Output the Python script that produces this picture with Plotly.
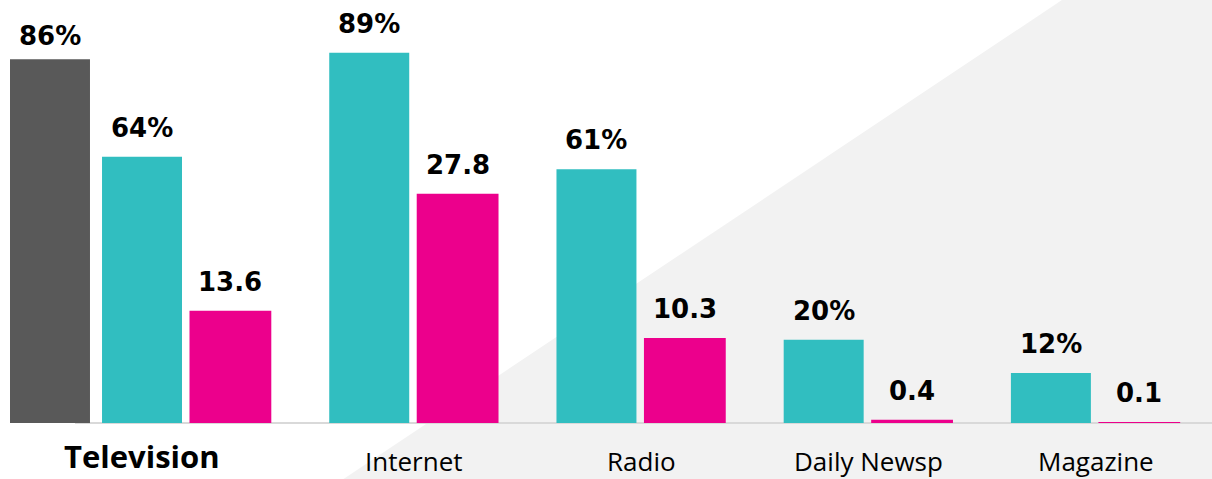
import plotly.graph_objects as go

categories = ["Television", "Internet", "Radio", "Daily Newsp", "Magazine"]
tv_overall = [86]
reach_pct = [64, 89, 61, 20, 12]
time_spent = [13.6, 27.8, 10.3, 0.4, 0.1]
overall_labels = ["86%"]
reach_labels = ["64%", "89%", "61%", "20%", "12%"]
time_labels = ["13.6", "27.8", "10.3", "0.4", "0.1"]

GRAY = "#595959"
TEAL = "#31BEC0"
MAG = "#EC008C"

W_BAR = 0.352
OFF_GRAY = -0.779
OFF_TEAL = -0.374
OFF_MAG = 0.011
W_MAG = 0.36

fig = go.Figure()
fig.add_bar(x=categories[:1], y=tv_overall, yaxis="y3", marker_color=GRAY,
            offset=OFF_GRAY, width=W_BAR, marker_line_width=0)
fig.add_bar(x=categories, y=reach_pct, marker_color=TEAL,
            offset=OFF_TEAL, width=W_BAR, marker_line_width=0)
fig.add_bar(x=categories, y=time_spent, yaxis="y2", marker_color=MAG,
            offset=OFF_MAG, width=W_MAG, marker_line_width=0)

val_font = dict(family="DejaVu Sans", size=26, color="black", weight="bold")
ann = []
for i, (v, t) in enumerate(zip(tv_overall, overall_labels)):
    ann.append(dict(x=i + OFF_GRAY + W_BAR / 2, y=v, yref="y3", text=t,
                    showarrow=False, yanchor="bottom", yshift=6, font=val_font))
for i, (v, t) in enumerate(zip(reach_pct, reach_labels)):
    ann.append(dict(x=i + OFF_TEAL + W_BAR / 2, y=v, yref="y", text=t,
                    showarrow=False, yanchor="bottom", yshift=12, font=val_font))
for i, (v, t) in enumerate(zip(time_spent, time_labels)):
    ann.append(dict(x=i + OFF_MAG + W_MAG / 2, y=v, yref="y2", text=t,
                    showarrow=False, yanchor="bottom", yshift=12, font=val_font))

for i, c in enumerate(categories):
    if i == 0:
        ann.append(dict(x=i + OFF_TEAL + W_BAR / 2, y=0, xref="x", yref="paper", text=c,
                        showarrow=False, yanchor="middle", yshift=-33,
                        font=dict(family="Open Sans", size=31, color="black", weight="bold")))
    else:
        ann.append(dict(x=i, y=0, xref="x", yref="paper", text=c,
                        showarrow=False, yanchor="middle", yshift=-38,
                        font=dict(family="Open Sans", size=26, color="black")))

fig.update_layout(
    width=1212, height=479,
    margin=dict(l=0, r=0, t=0, b=56, pad=0),
    paper_bgcolor="white", plot_bgcolor="rgba(0,0,0,0)",
    barmode="overlay", showlegend=False,
    xaxis=dict(type="category", range=[-0.823, 4.511], showticklabels=False,
               showgrid=False, zeroline=False, showline=False),
    yaxis=dict(range=[0, 101.7], visible=False),
    yaxis2=dict(range=[0, 51.3], overlaying="y", visible=False),
    yaxis3=dict(range=[0, 100], overlaying="y", visible=False),
    annotations=ann,
    shapes=[
        dict(type="path", xref="paper", yref="paper",
             path="M 0.8762,1 L 1,1 L 1,-0.1324 L 0.2834,-0.1324 Z",
             fillcolor="#F2F2F2", line=dict(width=0), layer="below"),
        dict(type="line", xref="paper", yref="paper", x0=75 / 1212, x1=1, y0=0, y1=0,
             line=dict(color="#D9D9D9", width=2), layer="below"),
    ],
)

fig.write_html(
    "out.html",
    config={"displayModeBar": False},
    post_script="document.body.style.margin='0';document.body.style.overflow='hidden';"
                "document.documentElement.style.overflow='hidden';",
)
